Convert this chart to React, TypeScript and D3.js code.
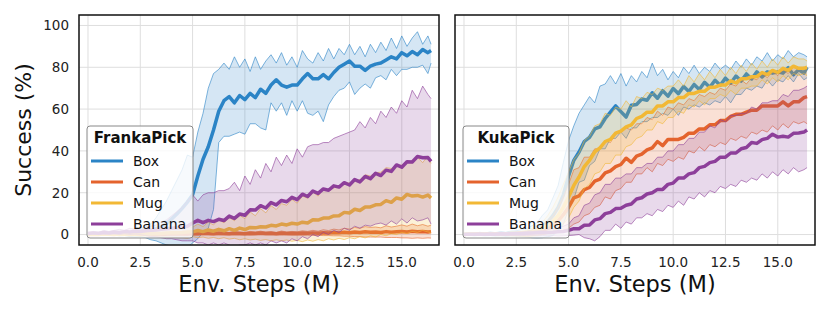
import React from 'react';
import * as d3 from 'd3';

// env steps (M) for every logged point
const steps = [...d3.range(0, 16.5, 0.25), 16.4];

const seriesNames = ['Box', 'Can', 'Mug', 'Banana'];
const seriesColors = ['#2b84c6', '#e4632d', '#f2b835', '#8d3f9a'];
const xTicks = [0, 2.5, 5, 7.5, 10, 12.5, 15];
const yTicks = [0, 20, 40, 60, 80, 100];

// ---- FrankaPick ----
const frankaBoxMean = [
  0, 0.3, 0.1, 0.4, 0.2, 0.5, 0.3, 0.6, 0.4, 0.8,
  0.5, 1.2, 1.5, 2.8, 3.5, 5.2, 7.5, 9.8, 12.5, 15.5,
  19, 28, 36, 42, 50, 59, 64, 66, 63, 66.5,
  64.5, 67.5, 65.5, 69.5, 67.5, 71.5, 74, 71.5, 70.5, 71.5,
  71.5, 74.5, 77, 74.5, 74.5, 76.5, 74.5, 77.5, 80, 81.5,
  83, 80.5, 80.5, 78.5, 80.5, 81.5, 82, 83.5, 85, 84,
  87, 85.5, 87.5, 86, 88.5, 87, 88,
];
const frankaBoxHi = [
  0.5, 0.8, 0.6, 1, 0.8, 1.2, 1, 1.5, 1.2, 2,
  2, 3.5, 5, 8, 12, 16, 21, 26, 31, 38,
  37, 49, 58, 70, 77, 79, 82, 79, 85, 80,
  84, 78, 85, 79, 83, 86, 82, 87, 81, 85,
  80, 88, 84, 82, 87, 83, 89, 84, 89, 86,
  91, 86, 90, 85, 91, 87, 92, 88, 94, 89,
  95, 90, 94, 97, 91, 95, 91,
];
const frankaBoxLo = [
  -0.5, -0.2, -0.4, -0.2, -0.5, -0.3, -0.6, -0.5, -1, -1.2,
  -1, -1.5, -2.5, -3, -4, -5, -5.5, -6, -6, -6,
  -4, -2, 1, 3, 12, 44, 47, 47, 48, 49,
  48, 53, 53, 51, 50, 63, 59, 63, 57, 64,
  59, 64, 58, 57, 59, 54, 62, 66, 69, 70,
  73, 67, 70, 72, 70, 75, 76, 74, 79, 76,
  79, 79, 80, 80, 81, 77, 82,
];
const frankaCanMean = [
  0, 0.1, 0, 0.2, 0.1, 0, 0.2, 0.1, 0.2, 0.1,
  0.2, 0.1, 0.3, 0.2, 0.3, 0.2, 0.4, 0.3, 0.4, 0.3,
  0.5, 0.4, 0.6, 0.5, 0.4, 0.6, 0.5, 0.4, 0.6, 0.5,
  0.4, 0.6, 0.5, 0.7, 0.5, 0.6, 0.4, 0.7, 0.5, 0.6,
  0.5, 0.7, 0.6, 0.8, 0.6, 0.9, 0.7, 1, 0.8, 1.1,
  0.9, 1.2, 1, 1.3, 1.1, 1.2, 1, 1.4, 1.1, 1.3,
  1.5, 1.2, 1.6, 1.3, 1.5, 1.2, 1.4,
];
const frankaCanHi = [
  0.3, 0.4, 0.3, 0.5, 0.4, 0.3, 0.5, 0.4, 0.5, 0.4,
  0.6, 0.5, 0.7, 0.6, 0.8, 0.7, 0.9, 0.8, 1, 0.9,
  1.2, 1, 1.3, 1.1, 1, 1.3, 1.2, 1, 1.4, 1.2,
  1, 1.5, 1.2, 1.6, 1.2, 1.4, 1, 1.7, 1.2, 1.5,
  1.3, 1.8, 1.5, 2, 1.6, 2.3, 1.9, 2.6, 2.2, 3,
  2.6, 3.4, 3, 3.8, 3.4, 3.6, 3.2, 4.2, 3.6, 4,
  4.6, 4, 5, 4.2, 4.8, 4, 4.5,
];
const frankaCanLo = [
  -0.2, -0.2, -0.3, -0.1, -0.2, -0.3, -0.1, -0.2, -0.1, -0.2,
  -0.2, -0.3, -0.1, -0.2, -0.3, -0.2, -0.1, -0.2, -0.2, -0.3,
  -0.2, -0.2, -0.1, -0.1, -0.2, -0.1, -0.2, -0.2, -0.2, -0.2,
  -0.2, -0.3, -0.2, -0.2, -0.2, -0.2, -0.2, -0.3, -0.2, -0.3,
  -0.3, -0.4, -0.3, -0.4, -0.4, -0.5, -0.5, -0.6, -0.6, -0.8,
  -0.8, -1, -1, -1.2, -1.2, -1.2, -1.2, -1.4, -1.4, -1.4,
  -1.6, -1.6, -1.8, -1.6, -1.8, -1.6, -1.7,
];
const frankaMugMean = [
  0, 0.2, 0.1, 0.3, 0.1, 0.2, 0.3, 0.2, 0.4, 0.3,
  0.4, 0.5, 0.4, 0.6, 0.5, 0.7, 0.8, 0.9, 1, 1.2,
  1.3, 1.9, 1.4, 2.2, 1.6, 2.5, 1.8, 2.8, 2, 3.1,
  2.4, 3.4, 3.2, 3.7, 3.6, 4.4, 4.1, 5, 4.6, 5.4,
  5, 5.9, 5.5, 7.1, 6.9, 7.9, 7.9, 8.9, 9, 10.6,
  10.3, 12.1, 11.5, 13.2, 13.2, 14.2, 14.4, 16.2, 15.4, 17.5,
  16.9, 19.2, 18.4, 18.7, 17.9, 18.9, 17.5,
];
const frankaMugHi = [
  0.3, 0.5, 0.4, 0.6, 0.5, 0.7, 0.6, 0.8, 1, 1.2,
  1.2, 1.5, 1.8, 2, 2.2, 2.5, 2.8, 3, 3.2, 3.5,
  3.5, 5, 3.8, 6, 4.6, 7.2, 5.6, 8.2, 6.6, 9.2,
  7.6, 10.8, 9, 12.4, 10.4, 13.8, 12, 14.8, 14, 16.8,
  15, 18.4, 17.4, 20.4, 18.4, 22, 21.2, 22.4, 22.8, 25,
  24.6, 26, 26.2, 28.6, 28, 29.6, 29.8, 32, 31.6, 33,
  33.2, 34.6, 34.2, 37, 34.4, 37.6, 34,
];
const frankaMugLo = [
  -0.3, -0.4, -0.2, -0.5, -0.3, -0.4, -0.6, -0.5, -0.7, -0.6,
  -0.8, -0.7, -0.9, -1, -1, -1.2, -1.3, -1.5, -1.5, -1.8,
  -1, -1.5, -1.2, -1.8, -1.4, -2, -1.5, -2.2, -1.8, -2.5,
  -2, -2.6, -2.2, -2.8, -2.4, -3, -2.5, -3, -2.6, -3.2,
  -2.8, -3.4, -2.6, -3.2, -2.4, -3, -2, -2.6, -1.8, -2.4,
  -1.5, -2, -1, -1.6, -0.6, -1.2, 0, -0.6, 0.4, 0,
  1, 0.5, 1.5, 1, 2, 1.2, 0.8,
];
const frankaBananaMean = [
  0.5, 0.8, 0.6, 1, 0.8, 1.2, 1, 1.4, 1.2, 1.6,
  1.5, 1.8, 2, 2.2, 2.5, 2.8, 3, 3.2, 3.5, 4,
  5.5, 6.8, 5.7, 6.8, 6.2, 7.3, 6.7, 8.8, 7.7, 9.8,
  9.2, 11.8, 11.7, 13.8, 12.7, 15.3, 14.2, 16.3, 15.7, 17.8,
  16.7, 19.3, 18.2, 20.8, 19.7, 21.8, 21.2, 23.3, 22.7, 24.8,
  23.7, 26.3, 25.2, 27.8, 26.7, 29.3, 28.2, 30.8, 30.2, 33.3,
  32.2, 34.8, 34.7, 37.3, 36.7, 36.8, 35,
];
const frankaBananaHi = [
  1, 1.5, 1, 2, 1.5, 2, 2.5, 2, 3, 2.5,
  3, 3.5, 4, 4.5, 6, 7, 9, 11, 13, 16,
  19, 16, 19, 20, 20, 21, 21, 22, 25, 21,
  28, 24, 31, 27, 34, 30, 37, 33, 38, 34,
  41, 37, 42, 43, 43, 44, 44, 46, 47, 48,
  49, 50, 54, 51, 56, 53, 59, 56, 61, 58,
  64, 61, 69, 65, 71, 67, 65,
];
const frankaBananaLo = [
  0, 0.2, 0, 0.3, 0, 0.2, 0, 0.3, 0, 0.2,
  0, -0.5, -1, -1, -1.5, -2, -2, -2.5, -3, -3,
  -3, -4, -4, -5, -4, -5, -4, -5, -6, -5,
  -5, -4, -5, -4, -5, -3, -4, -3, -4, -2,
  -3, -1, -2, 0, -1, 1, 0, 2, 1, 3,
  2, 4, 3, 4.5, 4, 5, 5.5, 4.5, 6.5, 5,
  7.5, 5.5, 8, 6.5, 7, 8, 5,
];

// ---- KukaPick ----
const kukaBoxMean = [
  0, 0.2, 0.1, 0.3, 0.2, 0.4, 0.3, 0.5, 0.4, 0.6,
  0.6, 0.8, 1, 1.5, 2.5, 4, 6, 9, 13, 19,
  28, 35.5, 39.5, 44.5, 46.5, 50.5, 51.5, 55.5, 58.5, 61.5,
  58.8, 56.2, 61.8, 62.2, 64.8, 64.2, 67.8, 65.2, 68.8, 66.2,
  69.8, 67.4, 70.8, 68.4, 71.8, 69.4, 72.8, 70.4, 73.8, 71.4,
  74.8, 72.4, 75.8, 73.4, 76.8, 74.4, 77.8, 75.4, 77.8, 77.2,
  77.8, 77.2, 79.8, 76.4, 78.8, 77.2, 80,
];
const kukaBoxHi = [
  0.5, 0.9, 0.5, 1.1, 0.7, 1.3, 0.9, 1.5, 1.1, 1.7,
  1.8, 2.4, 2.9, 4.2, 5.8, 9.2, 11.8, 17.5, 23.5, 34.5,
  45, 52, 58, 62, 66, 63, 71, 72, 76, 72,
  77, 71, 76, 73, 78, 75, 82, 76, 79, 74,
  78, 75, 80, 77, 81, 77, 80, 78, 82, 79,
  81, 79, 83, 80, 84, 81, 85, 83, 87, 83,
  86, 84, 88, 85, 87, 86, 85,
];
const kukaBoxLo = [
  -0.5, -0.3, -0.6, -0.4, -0.6, -0.5, -0.7, -0.6, -0.8, -0.7,
  -0.8, -1, -1.2, -1.5, -1.6, -1.5, -1.1, -0.5, 2, 5,
  12, 17, 25, 26, 33, 35, 41, 41, 46, 46,
  49, 46, 51, 51, 54, 54, 56, 56, 58, 57,
  60, 57, 61, 60, 62, 61, 63, 62, 64, 63,
  66, 63, 67, 67, 70, 69, 71, 70, 74, 71,
  74, 73, 76, 73, 77, 74, 75,
];
const kukaCanMean = [
  0, 0.2, 0.1, 0.2, 0.1, 0.3, 0.2, 0.3, 0.2, 0.4,
  0.4, 0.5, 0.6, 0.8, 1.2, 2, 3, 4.5, 6.5, 9.5,
  13, 17.5, 18.5, 21.5, 22.5, 25.5, 26.5, 29.5, 30.5, 32.5,
  33.5, 36.5, 34.5, 37.5, 38.5, 40.5, 41.5, 44.5, 42.5, 45.5,
  45.5, 45.5, 46.5, 48.5, 48.5, 50.5, 50.5, 52.5, 52.5, 54.5,
  54.5, 56.5, 57.5, 57.5, 58.5, 59.5, 59.5, 61.5, 61.5, 61.5,
  61.5, 63.5, 61.5, 63.5, 63.5, 65.5, 66,
];
const kukaCanHi = [
  0.3, 0.5, 0.4, 0.6, 0.5, 0.7, 0.6, 0.8, 0.7, 1,
  1, 1.3, 1.6, 2.2, 3, 4.5, 6.5, 9, 13, 18,
  24, 31, 32, 37, 37, 41, 41, 45, 44, 48,
  49, 51, 50, 53, 53, 56, 55, 59, 57, 61,
  60, 63, 62, 65, 64, 67, 66, 68, 67, 70,
  69, 72, 71, 74, 72, 75, 74, 77, 75, 78,
  76, 79, 77, 80, 79, 80, 79,
];
const kukaCanLo = [
  -0.3, -0.2, -0.3, -0.2, -0.4, -0.3, -0.4, -0.3, -0.5, -0.4,
  -0.5, -0.6, -0.5, -0.5, -0.3, 0, 0.5, 1, 1.5, 2,
  3, 5, 6, 9, 10, 13, 14, 18, 17, 21,
  22, 25, 25, 29, 29, 32, 30, 34, 33, 36,
  35, 37, 36, 40, 39, 42, 40, 43, 42, 44,
  43, 46, 45, 47, 46, 49, 48, 50, 49, 52,
  50, 53, 51, 54, 53, 54, 53,
];
const kukaMugMean = [
  0, 0.2, 0.1, 0.3, 0.2, 0.3, 0.2, 0.4, 0.3, 0.5,
  0.5, 0.7, 0.8, 1.2, 2, 3, 4.5, 6.5, 9, 13,
  18, 23.5, 27.5, 32.5, 35.5, 39.5, 41.5, 44.5, 45.5, 48.5,
  49.5, 51.5, 52.5, 55.5, 56.5, 58.5, 58.5, 61.5, 61.5, 63.5,
  63.5, 65.5, 65.5, 67.5, 67.5, 68.5, 68.5, 70.5, 70.5, 71.5,
  71.5, 73.5, 72.5, 74.5, 74.5, 75.5, 75.5, 77.5, 76.5, 78.5,
  77.5, 79.5, 78.5, 80.5, 79.5, 79.5, 80,
];
const kukaMugHi = [
  0.4, 0.6, 0.5, 0.8, 0.6, 0.9, 0.7, 1, 0.9, 1.2,
  1.2, 1.6, 2, 3, 4, 6, 9, 13, 18, 24,
  30, 36, 39, 45, 47, 52, 53, 58, 57, 61,
  60, 64, 61, 66, 65, 68, 67, 70, 69, 71,
  71, 74, 71, 76, 73, 77, 74, 78, 75, 79,
  76, 80, 77, 81, 78, 82, 79, 83, 80, 84,
  81, 85, 82, 85, 84, 84, 83,
];
const kukaMugLo = [
  -0.3, -0.2, -0.4, -0.3, -0.5, -0.4, -0.5, -0.6, -0.5, -0.7,
  -0.7, -0.8, -1, -0.8, -0.5, 0, 0.5, 1.5, 3, 5,
  8, 13, 16, 22, 24, 29, 30, 34, 34, 38,
  38, 42, 43, 46, 47, 50, 50, 54, 53, 56,
  56, 59, 58, 62, 61, 64, 62, 65, 65, 67,
  66, 69, 67, 70, 70, 71, 71, 74, 72, 75,
  73, 76, 74, 77, 76, 77, 76,
];
const kukaBananaMean = [
  0, 0.2, 0.1, 0.3, 0.2, 0.3, 0.2, 0.4, 0.3, 0.4,
  0.5, 0.5, 0.6, 0.7, 0.8, 0.9, 1, 1.1, 1.3, 1.5,
  2, 2.8, 2.8, 4.4, 4.6, 7, 7.6, 10, 10.6, 12.4,
  12.6, 14, 14.6, 17, 17.6, 19.4, 20, 21.6, 21.6, 24,
  24.6, 27, 27, 29, 29.6, 32, 32.6, 34.4, 35, 37,
  37, 39, 39, 41, 41.6, 44, 43.6, 45.4, 46, 48,
  46.6, 47, 46.6, 48.4, 48.6, 49, 50,
];
const kukaBananaHi = [
  0.3, 0.5, 0.4, 0.6, 0.5, 0.7, 0.6, 0.8, 0.7, 0.9,
  1, 1.2, 1.4, 1.6, 1.8, 2, 2.4, 2.8, 3.2, 4,
  5, 8, 9, 14, 15, 19, 20, 24, 24, 27,
  27, 29, 29, 32, 32, 34, 34, 37, 37, 40,
  40, 43, 43, 46, 46, 49, 49, 52, 51, 55,
  54, 57, 57, 58, 58, 61, 60, 63, 63, 64,
  64, 67, 66, 69, 69, 70, 71,
];
const kukaBananaLo = [
  -0.3, -0.2, -0.4, -0.3, -0.4, -0.3, -0.5, -0.4, -0.5, -0.4,
  -0.5, -0.4, -0.6, -0.5, -0.6, -0.5, -0.6, -0.5, -0.7, -0.6,
  -0.5, -0.3, 0, -1.5, -2, -3, -1, 2, 2, 5,
  3, 6, 5, 8, 8, 10, 9, 12, 11, 14,
  13, 16, 14, 18, 17, 20, 18, 21, 20, 23,
  22, 24, 23, 26, 25, 27, 26, 29, 27, 30,
  28, 31, 29, 32, 30, 31, 32,
];

const frankaSeries = [
  { mean: frankaBoxMean, hi: frankaBoxHi, lo: frankaBoxLo },
  { mean: frankaCanMean, hi: frankaCanHi, lo: frankaCanLo },
  { mean: frankaMugMean, hi: frankaMugHi, lo: frankaMugLo },
  { mean: frankaBananaMean, hi: frankaBananaHi, lo: frankaBananaLo },
];
const kukaSeries = [
  { mean: kukaBoxMean, hi: kukaBoxHi, lo: kukaBoxLo },
  { mean: kukaCanMean, hi: kukaCanHi, lo: kukaCanLo },
  { mean: kukaMugMean, hi: kukaMugHi, lo: kukaMugLo },
  { mean: kukaBananaMean, hi: kukaBananaHi, lo: kukaBananaLo },
];

const FONT = "'DejaVu Sans', sans-serif";
const TOP = 15;
const PH = 230;
const PW = 360;

type Series = { mean: number[]; hi: number[]; lo: number[] };

const Panel = ({ left, title, series, showY, id }: { left: number; title: string; series: Series[]; showY: boolean; id: string }) => {
  const x = d3.scaleLinear().domain([-0.43, 16.78]).range([left, left + PW]);
  const y = d3.scaleLinear().domain([-5, 105]).range([TOP + PH, TOP]);

  const line = (vals: number[]) =>
    d3.line<number>().x((_, i) => x(steps[i])).y(d => y(d))(vals) || '';
  const band = (s: Series) =>
    d3.area<number>()
      .x((_, i) => x(steps[i]))
      .y0((_, i) => y(s.lo[i]))
      .y1((_, i) => y(s.hi[i]))(s.mean) || '';

  const legX = left + 8;
  const legY = 126;

  return (
    <g>
      <defs>
        <clipPath id={id}>
          <rect x={left} y={TOP} width={PW} height={PH} />
        </clipPath>
      </defs>
      {/* grid */}
      {xTicks.map(t => (
        <line key={'gx' + t} x1={x(t)} x2={x(t)} y1={TOP} y2={TOP + PH} stroke="#dedede" strokeWidth={1} />
      ))}
      {yTicks.map(t => (
        <line key={'gy' + t} x1={left} x2={left + PW} y1={y(t)} y2={y(t)} stroke="#dedede" strokeWidth={1} />
      ))}
      <g clipPath={`url(#${id})`}>
        {series.map((s, k) => (
          <g key={k}>
            <path d={band(s)} fill={seriesColors[k]} fillOpacity={0.2} />
            <path d={line(s.hi)} fill="none" stroke={seriesColors[k]} strokeWidth={1} strokeOpacity={0.6} />
            <path d={line(s.lo)} fill="none" stroke={seriesColors[k]} strokeWidth={1} strokeOpacity={0.6} />
            <path d={line(s.mean)} fill="none" stroke={seriesColors[k]} strokeWidth={3.5} strokeLinejoin="round" />
          </g>
        ))}
      </g>
      <rect x={left} y={TOP} width={PW} height={PH} fill="none" stroke="#111" strokeWidth={1.5} />
      {/* x ticks */}
      {xTicks.map(t => (
        <text key={'tx' + t} x={x(t)} y={267} textAnchor="middle" fontFamily={FONT} fontSize={13.5} fill="#222">
          {t.toFixed(1)}
        </text>
      ))}
      {showY && yTicks.map(t => (
        <text key={'ty' + t} x={left - 10} y={y(t) + 4.8} textAnchor="end" fontFamily={FONT} fontSize={13.5} fill="#222">
          {t}
        </text>
      ))}
      <text x={left + PW / 2} y={292} textAnchor="middle" fontFamily={FONT} fontSize={22.5} fill="#111">
        Env. Steps (M)
      </text>
      {/* legend */}
      <rect x={legX} y={legY} width={106} height={112} rx={3} fill="#fff" fillOpacity={0.8} stroke="#888" strokeWidth={1} />
      <text x={legX + 53} y={legY + 17} textAnchor="middle" fontFamily={FONT} fontSize={15} fontWeight="bold" fill="#111">
        {title}
      </text>
      {seriesNames.map((n, k) => (
        <g key={n}>
          <line x1={legX + 4} x2={legX + 36} y1={legY + 35 + k * 21} y2={legY + 35 + k * 21} stroke={seriesColors[k]} strokeWidth={3} />
          <text x={legX + 46} y={legY + 40 + k * 21} fontFamily={FONT} fontSize={14} fill="#111">
            {n}
          </text>
        </g>
      ))}
    </g>
  );
};

export default function App() {
  return (
    <svg width={830} height={312} style={{ position: 'absolute', left: 0, top: 0, background: '#fff' }}>
      <text transform="translate(31,130) rotate(-90)" textAnchor="middle" fontFamily={FONT} fontSize={22} fill="#111">
        Success (%)
      </text>
      <Panel left={79} title="FrankaPick" series={frankaSeries} showY={true} id="clipA" />
      <Panel left={455} title="KukaPick" series={kukaSeries} showY={false} id="clipB" />
    </svg>
  );
}
